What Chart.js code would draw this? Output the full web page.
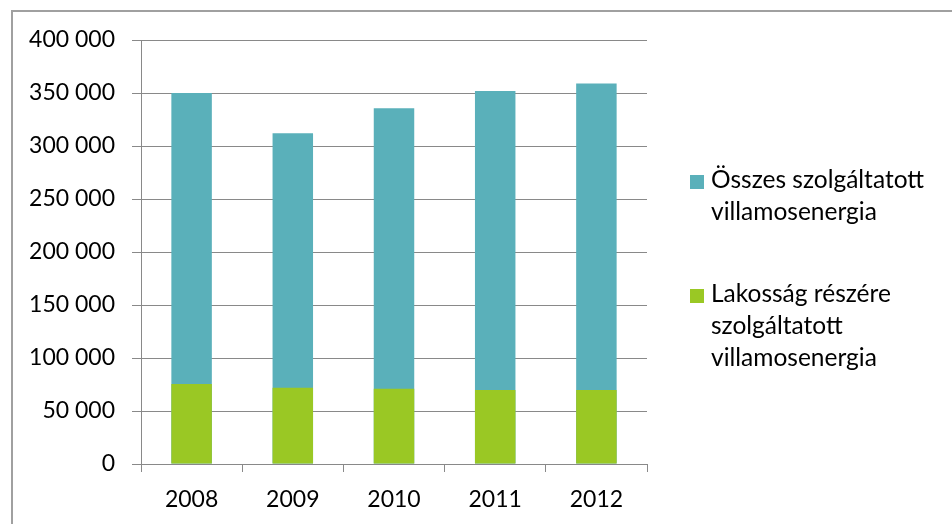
<!DOCTYPE html>
<html lang="hu">
<head>
<meta charset="utf-8">
<title>Szolgáltatott villamosenergia</title>
<script src="https://cdn.jsdelivr.net/npm/chart.js@4/dist/chart.umd.min.js"></script>
<style>
  html, body { margin: 0; padding: 0; background: #fff; }
  #wrap { position: relative; width: 952px; height: 524px; overflow: hidden; }
  #frame { position: absolute; left: 11px; top: 10px; width: 1000px; height: 600px;
           border: 2px solid #a0a0a0; box-sizing: border-box; }
  canvas { position: absolute; left: 0; top: 0; }
  .legend { position: absolute; left: 690px; font-family: Lato, sans-serif; font-size: 24.5px;
            line-height: 32px; color: #000; }
  .legend .item { position: absolute; left: 0; white-space: nowrap; }
  .legend .box { position: absolute; left: 0; width: 14px; height: 14px; }
  .legend .txt { position: absolute; left: 21px; top: 0; }
</style>
</head>
<body>
<div id="wrap">
  <div id="frame"></div>
  <canvas id="chart" width="952" height="524"></canvas>
  <div class="legend" id="legend"></div>
</div>
<script>
// Évek
const years = ['2008', '2009', '2010', '2011', '2012'];
// Összes szolgáltatott villamosenergia
const totalSupplied = [350000, 312000, 335500, 352000, 359000];
// Lakosság részére szolgáltatott villamosenergia
const householdSupplied = [75500, 72000, 71000, 69800, 69800];
// Sorozatnevek (sortöréssel)
const seriesNames = [
  ['Összes szolgáltatott', 'villamosenergia'],
  ['Lakosság részére', 'szolgáltatott', 'villamosenergia']
];
const seriesColors = ['#5AB0BA', '#9AC824'];
// Tengelyfeliratok
const yTicks = [0, 50000, 100000, 150000, 200000, 250000, 300000, 350000, 400000];

const fmt = v => String(v).replace(/\B(?=(\d{3})+(?!\d))/g, ' ');
const gridColor = '#898989';

Chart.defaults.font.family = 'Lato, sans-serif';
Chart.defaults.font.size = 23;
Chart.defaults.color = '#000';

const chart = new Chart(document.getElementById('chart'), {
  type: 'bar',
  data: {
    labels: years,
    datasets: [
      { label: seriesNames[0].join(' '), data: totalSupplied, backgroundColor: seriesColors[0],
        grouped: false, order: 1, barPercentage: 0.4, categoryPercentage: 1 },
      { label: seriesNames[1].join(' '), data: householdSupplied, backgroundColor: seriesColors[1],
        grouped: false, order: 0, barPercentage: 0.4, categoryPercentage: 1 }
    ]
  },
  options: {
    responsive: false,
    animation: false,
    layout: { padding: { left: 0, top: 40, right: 305, bottom: 0 } },
    plugins: { legend: { display: false }, tooltip: { enabled: false } },
    scales: {
      x: {
        grid: { drawOnChartArea: false, drawTicks: true, tickLength: 8, color: gridColor, offset: true },
        border: { color: gridColor, width: 1 },
        ticks: { padding: 14, font: { size: 23 } },
        afterFit: s => { s.height = 60; }
      },
      y: {
        min: 0, max: 400000,
        afterBuildTicks: s => { s.ticks = yTicks.map(v => ({ value: v })); },
        grid: { color: gridColor, tickLength: 9, lineWidth: 1 },
        border: { color: gridColor, width: 1 },
        ticks: { padding: 17, callback: v => fmt(v), font: { size: 23 } },
        afterFit: s => { s.width = 141; }
      }
    }
  }
});

// Jelmagyarázat a diagram adatsoraiból
const legendTops = [163, 277];
const legendEl = document.getElementById('legend');
chart.data.datasets.forEach((ds, i) => {
  const item = document.createElement('div');
  item.className = 'item';
  item.style.top = legendTops[i] + 'px';
  const box = document.createElement('div');
  box.className = 'box';
  box.style.background = ds.backgroundColor;
  box.style.top = '12px';
  const txt = document.createElement('div');
  txt.className = 'txt';
  txt.innerHTML = seriesNames[i].map(s => s.replace(/&/g, '&amp;')).join('<br>');
  item.appendChild(box);
  item.appendChild(txt);
  legendEl.appendChild(item);
});
</script>
</body>
</html>
